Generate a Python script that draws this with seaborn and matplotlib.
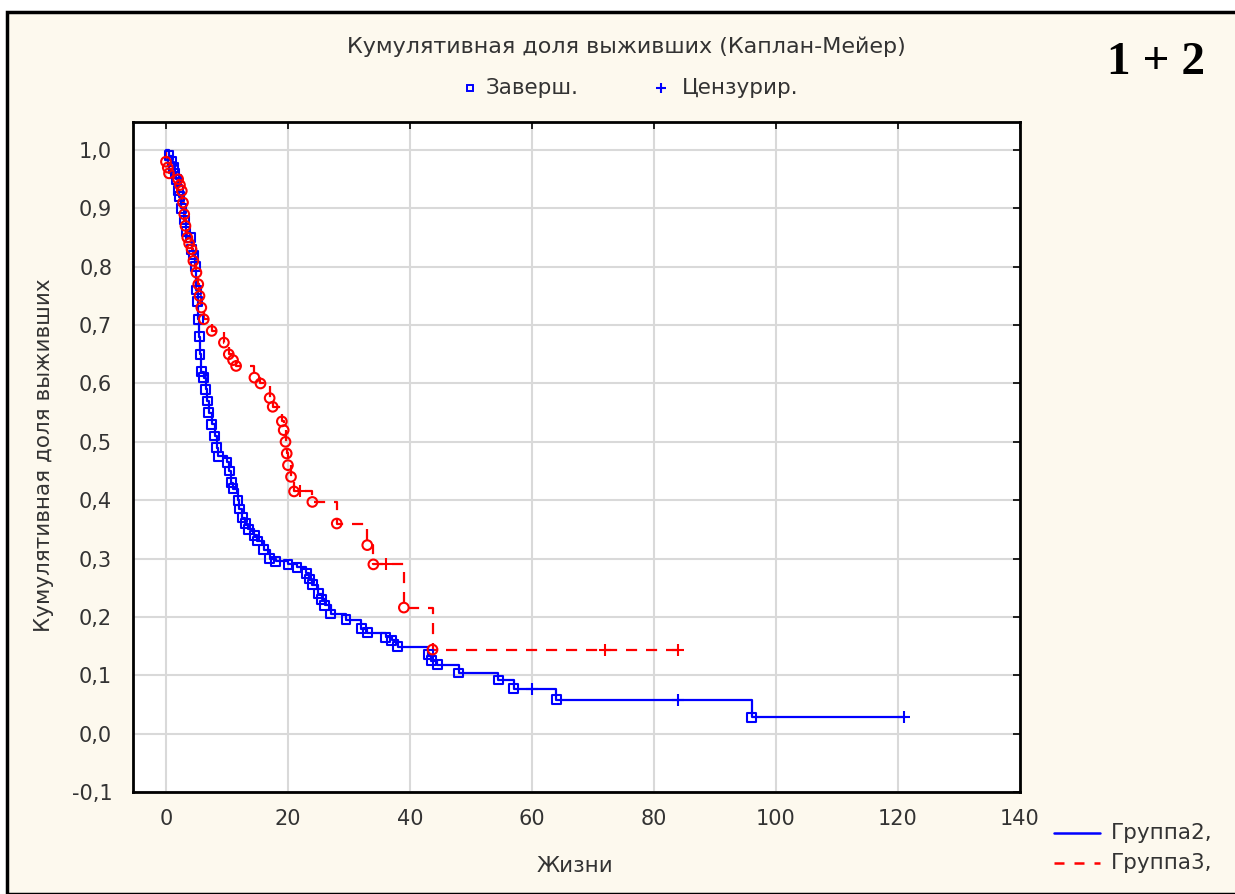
import numpy as np
import pandas as pd
import matplotlib
matplotlib.use("Agg")
import matplotlib.pyplot as plt
from matplotlib.lines import Line2D
from matplotlib.patches import Rectangle
import seaborn as sns

# ---------------- data ----------------
title = "Кумулятивная доля выживших (Каплан-Мейер)"
xlabel = "Жизни"
ylabel = "Кумулятивная доля выживших"
group_names = ["Группа2,", "Группа3,"]
marker_names = ["Заверш.", "Цензурир."]
corner_text = "1 + 2"

xticks = [0, 20, 40, 60, 80, 100, 120, 140]
xtick_labels = ["0", "20", "40", "60", "80", "100", "120", "140"]
yticks = [-0.1, 0.0, 0.1, 0.2, 0.3, 0.4, 0.5, 0.6, 0.7, 0.8, 0.9, 1.0]
ytick_labels = ["-0,1", "0,0", "0,1", "0,2", "0,3", "0,4", "0,5", "0,6", "0,7", "0,8", "0,9", "1,0"]

# Group 2 (blue): completed event times and survival after each event
g2_event_t = [0.5, 1.0, 1.3, 1.5, 1.7, 2.0, 2.2, 2.5, 3.0, 3.3, 4.0, 4.2, 4.5, 4.8,
              5.0, 5.2, 5.3, 5.5, 5.6, 5.8, 6.2, 6.5, 6.8, 7.0, 7.5, 8.0, 8.3, 8.6,
              10.0, 10.4, 10.7, 11.0, 11.8, 12.0, 12.5, 13.0, 13.5, 14.5, 15.0, 16.0,
              17.0, 18.0, 20.0, 21.5, 23.0, 23.5, 24.0, 25.0, 25.5, 26.0, 27.0, 29.5,
              32.0, 33.0, 36.0, 37.0, 38.0, 43.0, 43.5, 44.5, 48.0, 54.5, 57.0, 64.0, 96.0]
g2_event_s = [0.99, 0.98, 0.97, 0.96, 0.95, 0.93, 0.92, 0.90, 0.88, 0.86, 0.85, 0.83, 0.82, 0.80,
              0.76, 0.74, 0.71, 0.68, 0.65, 0.62, 0.61, 0.59, 0.57, 0.55, 0.53, 0.51, 0.49, 0.475,
              0.465, 0.45, 0.43, 0.42, 0.40, 0.385, 0.37, 0.36, 0.35, 0.34, 0.33, 0.315,
              0.30, 0.295, 0.29, 0.285, 0.275, 0.265, 0.255, 0.24, 0.23, 0.22, 0.205, 0.195,
              0.18, 0.173, 0.165, 0.16, 0.149, 0.135, 0.125, 0.118, 0.104, 0.092, 0.077, 0.058, 0.028]
g2_cens_t = [60.0, 84.0, 121.0]
g2_cens_s = [0.077, 0.058, 0.028]

# Group 3 (red)
g3_event_t = [0.0, 0.3, 0.5, 2.0, 2.3, 2.6, 2.8, 3.0, 3.2, 3.5, 3.8, 4.2, 4.5, 5.0, 5.3,
              5.5, 5.8, 6.2, 7.5, 9.5, 10.3, 11.0, 11.5, 14.5, 15.5, 17.0, 17.5, 19.0,
              19.3, 19.6, 19.8, 20.0, 20.5, 21.0, 24.0, 28.0, 33.0, 34.0, 39.0, 43.7]
g3_event_s = [0.98, 0.97, 0.96, 0.95, 0.94, 0.93, 0.91, 0.89, 0.87, 0.85, 0.84, 0.83, 0.81, 0.79, 0.77,
              0.75, 0.73, 0.71, 0.69, 0.67, 0.65, 0.64, 0.63, 0.61, 0.60, 0.575, 0.56, 0.535,
              0.52, 0.50, 0.48, 0.46, 0.44, 0.415, 0.397, 0.36, 0.323, 0.29, 0.216, 0.144]
g3_cens_t = [22.0, 36.0, 72.0, 84.0]
g3_cens_s = [0.415, 0.29, 0.144, 0.144]

# ---------------- figure ----------------
sns.set_theme(style="white")
plt.rcParams['font.family'] = ['DejaVu Sans']

W, H = 1235, 894
fig = plt.figure(figsize=(W / 100, H / 100), dpi=100)
fig.patch.set_facecolor("white")
cream = "#FDF9EE"
fig.patches.append(Rectangle((7 / W, 0), 1.2, 1 - 12 / H, transform=fig.transFigure,
                             facecolor=cream, edgecolor="black", linewidth=2.5, zorder=-10))

ax = fig.add_axes([133 / W, 1 - 792 / H, (1020 - 133) / W, (792 - 122) / H])
ax.set_facecolor("white")

blue, red = "#0000FF", "#FF0000"
txt = "#333333"

def curve(et, es, ct, cs):
    end_t = max(ct) if ct else et[-1]
    t = [0.0] + list(et) + [end_t]
    s = [1.0] + list(es) + [es[-1]]
    return pd.DataFrame({"t": t, "s": s})

c2 = curve(g2_event_t, g2_event_s, g2_cens_t, g2_cens_s)
c3 = curve(g3_event_t, g3_event_s, g3_cens_t, g3_cens_s)

sns.lineplot(data=c2, x="t", y="s", ax=ax, color=blue, linewidth=1.6,
             drawstyle="steps-post", estimator=None, sort=False, zorder=3)
sns.lineplot(data=c3, x="t", y="s", ax=ax, color=red, linewidth=1.6,
             drawstyle="steps-post", estimator=None, sort=False, zorder=4,
             dashes=False, linestyle=(0, (5, 4)))

sns.scatterplot(x=g2_event_t, y=g2_event_s, ax=ax, marker="s", s=40,
                facecolor="none", edgecolor=blue, linewidth=1.5, zorder=5)
sns.scatterplot(x=g3_event_t, y=g3_event_s, ax=ax, marker="o", s=48,
                facecolor="none", edgecolor=red, linewidth=1.5, zorder=6)
sns.scatterplot(x=g2_cens_t, y=g2_cens_s, ax=ax, marker="+", s=80,
                color=blue, linewidth=1.5, zorder=6)
sns.scatterplot(x=g3_cens_t, y=g3_cens_s, ax=ax, marker="+", s=80,
                color=red, linewidth=1.5, zorder=6)

ax.set_xlim(-5.4, 140)
ax.set_ylim(-0.1, 1.048)
ax.set_xticks(xticks)
ax.set_xticklabels(xtick_labels)
ax.set_yticks(yticks)
ax.set_yticklabels(ytick_labels)
ax.grid(True, color="#D9D9D9", linewidth=1.5, zorder=0)
ax.set_axisbelow(True)
ax.tick_params(axis="both", direction="in", length=5, width=1.2, color="black",
               top=True, right=True, labelsize=15, labelcolor=txt)
ax.tick_params(axis="y", pad=15)
ax.tick_params(axis="x", pad=12)
for sp in ax.spines.values():
    sp.set_color("black")
    sp.set_linewidth(2)
ax.set_xlabel("")
ax.set_ylabel("")

fs = 15.5
fig.text(626 / W, 1 - 47 / H, title, ha="center", va="center", fontsize=16, color=txt)
fig.text(575 / W, 1 - 866 / H, xlabel, ha="center", va="center", fontsize=fs, color=txt)
fig.text(44 / W, 1 - 455 / H, ylabel, ha="center", va="center", fontsize=fs,
         rotation=90, color=txt)
fig.text(1156 / W, 1 - 63 / H, corner_text, ha="center", va="center", fontsize=34,
         fontweight="bold", color="black", family=['Liberation Serif', 'DejaVu Serif'])

# marker legend (top)
fig.add_artist(Line2D([470 / W], [1 - 88 / H], transform=fig.transFigure, linestyle="none",
                      marker="s", markersize=5, markerfacecolor="none",
                      markeredgecolor=blue, markeredgewidth=1.4))
fig.text(486 / W, 1 - 88 / H, marker_names[0], ha="left", va="center", fontsize=fs, color=txt)
fig.add_artist(Line2D([661 / W], [1 - 88 / H], transform=fig.transFigure, linestyle="none",
                      marker="+", markersize=7, color=blue, markeredgewidth=1.5))
fig.text(682 / W, 1 - 88 / H, marker_names[1], ha="left", va="center", fontsize=fs, color=txt)

# group legend (bottom right)
fig.add_artist(Line2D([1054 / W, 1100 / W], [1 - 833 / H, 1 - 833 / H], transform=fig.transFigure,
                      color=blue, linewidth=1.8))
fig.add_artist(Line2D([1054 / W, 1100 / W], [1 - 863 / H, 1 - 863 / H], transform=fig.transFigure,
                      color=red, linewidth=1.8, linestyle=(0, (4, 4))))
fig.text(1111 / W, 1 - 833 / H, group_names[0], ha="left", va="center", fontsize=fs, color=txt)
fig.text(1111 / W, 1 - 863 / H, group_names[1], ha="left", va="center", fontsize=fs, color=txt)

fig.savefig("out.png", dpi=100, facecolor=fig.get_facecolor())
